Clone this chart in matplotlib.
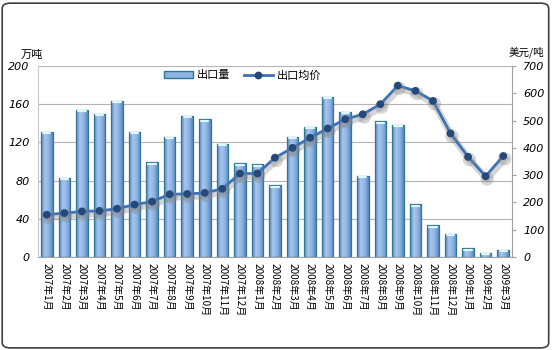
import numpy as np
import matplotlib
matplotlib.use('Agg')
from matplotlib import pyplot as plt
from matplotlib import patheffects as pe
from matplotlib.patches import FancyBboxPatch
from matplotlib.lines import Line2D
from matplotlib.colors import LinearSegmentedColormap

plt.rcParams['font.family'] = ['Noto Sans CJK SC', 'DejaVu Sans']

# monthly export volume (10k t) and average export price (USD/t)
months = ['2007年1月', '2007年2月', '2007年3月', '2007年4月', '2007年5月', '2007年6月',
          '2007年7月', '2007年8月', '2007年9月', '2007年10月', '2007年11月', '2007年12月',
          '2008年1月', '2008年2月', '2008年3月', '2008年4月', '2008年5月', '2008年6月',
          '2008年7月', '2008年8月', '2008年9月', '2008年10月', '2008年11月', '2008年12月',
          '2009年1月', '2009年2月', '2009年3月']
volume = [131, 83, 154, 150, 163, 131, 99, 126, 148, 144, 118, 98, 97, 75,
          126, 136, 168, 152, 85, 142, 138, 55, 33, 24, 9, 4, 7]
price = [155, 161, 167, 169, 177, 192, 203, 230, 231, 235, 250, 306, 306, 364,
         400, 437, 471, 505, 523, 560, 628, 609, 572, 453, 367, 296, 370]

x = np.arange(len(months))

fig = plt.figure(figsize=(5.52, 3.5), dpi=100)
ax = fig.add_axes([0.0688, 0.2657, 0.8587, 0.5457])
ax2 = ax.twinx()

# bars with a horizontal shading, dark at the sides
bars = ax.bar(x, volume, width=0.66, facecolor='none', edgecolor='#2F7791',
              linewidth=0.9, zorder=3)
cmap = LinearSegmentedColormap.from_list('barshade', ['#5887C4', '#A7C6EC', '#8DB3E2', '#5887C4'])
grad = np.linspace(0, 1, 64).reshape(1, -1)
for b in bars:
    x0, w, h = b.get_x(), b.get_width(), b.get_height()
    im = ax.imshow(grad, cmap=cmap, extent=[x0, x0 + w, 0, h], aspect='auto', zorder=2)
    im.set_clip_path(b)
    ax.plot([x0 + 0.12, x0 + w - 0.12], [h - 1.2, h - 1.2], color='#DDF6FF',
            linewidth=1.6, zorder=4, solid_capstyle='round')

ax.set_xlim(-0.5, len(months) - 0.5)
ax.set_ylim(0, 200)
ax.set_yticks(range(0, 201, 40))
ax.yaxis.grid(True, color='#B4B4B4', linewidth=0.8)
ax.set_axisbelow(True)
ax.set_xticks(x)
ax.set_xticklabels(months, rotation=270, fontsize=7.2, va='top', ha='center')
ax.tick_params(axis='x', length=0, pad=4)
ax.tick_params(axis='y', length=0, pad=6, labelsize=8)
for t in ax.get_yticklabels():
    t.set_fontstyle('italic')
    t.set_family('DejaVu Sans')
for s in ['top', 'right']:
    ax.spines[s].set_visible(False)
ax.spines['left'].set_color('#C8C8C8')
ax.spines['bottom'].set_color('#A0A0A0')

# price line on the right axis
ax2.plot(x, price, color='#3C72B8', linewidth=2.0, marker='o', markersize=4.6,
         markerfacecolor='#24497A', markeredgecolor='#24497A', zorder=5,
         path_effects=[pe.SimpleLineShadow(offset=(1, -2), shadow_color='#888888',
                                           alpha=0.35, linewidth=5), pe.Normal()])
ax2.set_ylim(0, 700)
ax2.set_yticks(range(0, 701, 100))
ax2.tick_params(axis='y', length=3, width=0.8, color='#A0A0A0', pad=5, labelsize=8)
for t in ax2.get_yticklabels():
    t.set_fontstyle('italic')
    t.set_family('DejaVu Sans')
for s in ['top', 'left', 'bottom']:
    ax2.spines[s].set_visible(False)
ax2.spines['right'].set_color('#A0A0A0')

fig.text(0.057, 0.843, '万吨', fontsize=8, ha='center', va='center')
fig.text(0.953, 0.85, '美元/吨', fontsize=7.6, ha='center', va='center')

handles = [plt.Rectangle((0, 0), 1, 1, facecolor='#8DB3E2', edgecolor='#2F7791'),
           Line2D([], [], color='#3C72B8', linewidth=2.0, marker='o', markersize=4.6,
                  markerfacecolor='#24497A', markeredgecolor='#24497A')]
fig.legend(handles, ['出口量', '出口均价'], ncol=2, frameon=False, fontsize=8,
           loc='center', bbox_to_anchor=(0.44, 0.785), handlelength=2.6,
           handleheight=0.5, columnspacing=1.2, handletextpad=0.4)

# rounded frame around the whole chart
fig.patches.append(FancyBboxPatch((0.004, 0.006), 0.99, 0.985,
                                  boxstyle='round,pad=0,rounding_size=0.015',
                                  transform=fig.transFigure, facecolor='none',
                                  edgecolor='#404040', linewidth=1.2))

fig.savefig('out.png', dpi=100)
